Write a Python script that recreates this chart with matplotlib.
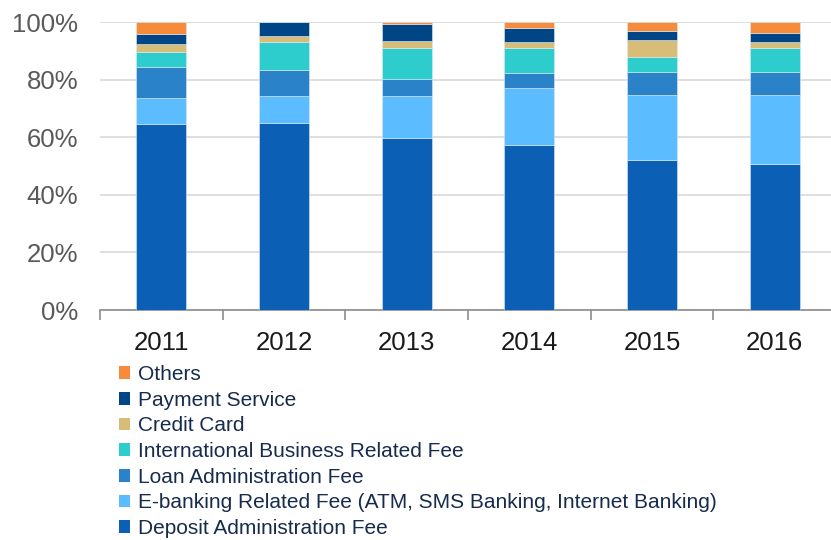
import numpy as np
import matplotlib.pyplot as plt
from matplotlib.patches import Patch

plt.rcParams['font.family'] = ['Liberation Sans', 'DejaVu Sans']

# Fee income composition (share of total, %)
years = ['2011', '2012', '2013', '2014', '2015', '2016']
deposit = [64.5, 64.8, 59.8, 57.2, 52.2, 50.6]
ebanking = [9.2, 9.6, 14.4, 20.0, 22.6, 24.0]
loan = [10.7, 9.0, 6.1, 5.0, 7.9, 8.2]
international = [5.2, 9.7, 10.6, 8.7, 5.2, 8.1]
credit_card = [2.6, 2.1, 2.5, 2.1, 6.0, 2.2]
payment = [3.6, 4.8, 5.9, 5.0, 3.1, 3.2]
others = [4.2, 0.0, 0.7, 2.0, 3.0, 3.7]

labels = ['Deposit Administration Fee',
          'E-banking Related Fee (ATM, SMS Banking, Internet Banking)',
          'Loan Administration Fee',
          'International Business Related Fee',
          'Credit Card',
          'Payment Service',
          'Others']
colors = ['#0b5fb4', '#5bbcff', '#2a83c9', '#2ecdcd', '#d8bd78', '#004585', '#f78b3c']
series = [deposit, ebanking, loan, international, credit_card, payment, others]

fig = plt.figure(figsize=(8.31, 5.40), dpi=100)
ax = fig.add_axes([100 / 831, 230 / 540, 736 / 831, 288 / 540])

x = np.arange(len(years))
bottom = np.zeros(len(years))
for vals, col in zip(series, colors):
    vals = np.array(vals) / 100
    ax.bar(x, vals, width=0.405, bottom=bottom, color=col,
           edgecolor='#dbe9f6', linewidth=0.4, zorder=3)
    bottom += vals

ax.set_xlim(-0.5, len(years) - 0.5)
ax.set_ylim(0, 1)
ax.set_yticks(np.linspace(0, 1, 6))
ax.set_yticklabels([f'{int(v)}%' for v in np.linspace(0, 100, 6)])
ax.yaxis.grid(True, color='#d9d9d9', linewidth=1.2, zorder=0)
ax.set_axisbelow(True)

ax.set_xticks(x)
ax.set_xticklabels(years)
ax.set_xticks(np.arange(len(years) + 1) - 0.5, minor=True)
ax.tick_params(axis='x', which='major', length=0, pad=15, labelsize=18.5, labelcolor='#1a1a1a')
ax.tick_params(axis='x', which='minor', length=7, width=1.2, color='#8c8c8c')
ax.tick_params(axis='y', length=0, pad=15.5, labelsize=18.5, labelcolor='#595959')

for s in ['left', 'right', 'top']:
    ax.spines[s].set_visible(False)
ax.spines['bottom'].set_color('#8c8c8c')
ax.spines['bottom'].set_linewidth(1.2)

handles = [Patch(facecolor=c, label=l) for c, l in zip(colors, labels)][::-1]
fig.legend(handles=handles, loc='upper left', bbox_to_anchor=(119 / 831, 1 - 365 / 540),
           frameon=False, fontsize=15, handlelength=0.55, handleheight=0.55,
           handletextpad=0.35, labelspacing=0.32, borderpad=0, borderaxespad=0,
           labelcolor='#172b4d')

fig.savefig('out.png', dpi=100)
